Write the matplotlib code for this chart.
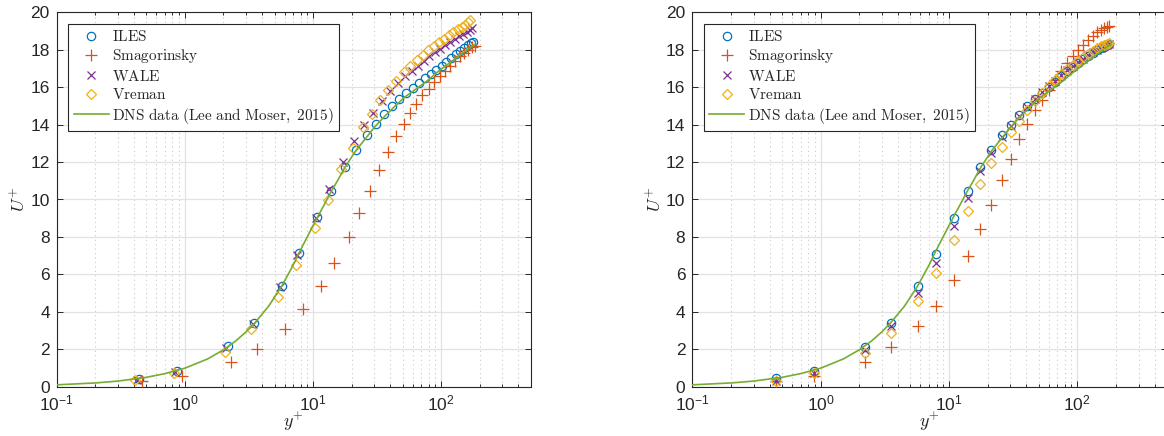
import matplotlib
matplotlib.use("Agg")
import matplotlib.pyplot as plt
from matplotlib.ticker import LogLocator, NullLocator, NullFormatter

plt.rcParams['font.family'] = ['Liberation Sans', 'DejaVu Sans']
plt.rcParams['mathtext.fontset'] = 'cm'

# ---------------- data ----------------
labels = ['ILES', 'Smagorinsky', 'WALE', 'Vreman', 'DNS data (Lee and Moser, 2015)']

# DNS reference profile
dns_yp = [0.1, 0.2, 0.3, 0.5, 0.7, 1.0, 1.5, 2.0, 2.5, 3.0, 3.5, 4.5, 5.7, 7.0, 7.7, 9.0,
          10.8, 12.5, 13.9, 15.5, 17.7, 21.6, 26.3, 30.0, 35.9, 43.0, 51.4, 62.0, 78.0,
          95.0, 119.0, 145.0, 170.0, 182.0]
dns_U = [0.10, 0.20, 0.30, 0.50, 0.70, 0.99, 1.48, 1.97, 2.45, 2.93, 3.40, 4.30, 5.38, 6.50,
         7.10, 8.00, 9.05, 9.85, 10.45, 11.00, 11.72, 12.62, 13.35, 13.85, 14.42, 14.95,
         15.45, 15.85, 16.35, 16.85, 17.35, 17.80, 18.15, 18.27]

# Left panel
L_iles_yp = [0.44, 0.87, 2.17, 3.46, 5.69, 7.78, 10.8, 13.9, 17.7, 21.6, 26.3, 30.7, 35.9,
             41.4, 47.0, 53.3, 60.1, 67.4, 74.6, 83.1, 91.5, 100.7, 109.4, 119.0, 129.5,
             140.7, 151.0, 161.6, 170.7, 175.5]
L_iles_U = [0.41, 0.86, 2.19, 3.42, 5.40, 7.13, 9.06, 10.48, 11.76, 12.66, 13.46, 14.03,
            14.57, 14.97, 15.37, 15.69, 15.97, 16.22, 16.47, 16.72, 16.94, 17.15, 17.36,
            17.56, 17.75, 17.93, 18.10, 18.24, 18.34, 18.40]

L_smag_yp = [0.465, 0.955, 2.30, 3.68, 6.01, 8.31, 11.6, 14.6, 18.9, 22.9, 27.7, 32.4, 38.1,
             44.0, 50.8, 56.9, 63.4, 71.1, 79.7, 88.2, 97.7, 107.5, 117.6, 127.9, 139.2,
             151.4, 162.6, 173.7, 184.5]
L_smag_U = [0.30, 0.59, 1.30, 2.02, 3.07, 4.14, 5.40, 6.63, 7.99, 9.27, 10.48, 11.59, 12.53,
            13.37, 14.05, 14.62, 15.12, 15.56, 15.92, 16.28, 16.58, 16.88, 17.15, 17.40,
            17.65, 17.85, 18.00, 18.13, 18.18]

L_wale_yp = [0.425, 0.83, 2.09, 3.39, 5.53, 7.55, 10.5, 13.3, 17.0, 20.7, 25.1, 29.5, 34.4,
             39.7, 45.6, 52.0, 58.7, 65.4, 72.9, 80.6, 89.3, 98.2, 106.9, 117.0, 127.2,
             137.5, 147.7, 158.0, 167.5, 174.0]
L_wale_U = [0.35, 0.80, 2.09, 3.35, 5.30, 7.04, 9.00, 10.55, 11.98, 13.10, 13.99, 14.62,
            15.24, 15.78, 16.22, 16.58, 16.88, 17.15, 17.42, 17.65, 17.86, 18.06, 18.24,
            18.42, 18.58, 18.72, 18.86, 18.97, 19.07, 19.16]

L_vrem_yp = [0.41, 0.82, 2.04, 3.30, 5.36, 7.37, 10.37, 12.96, 16.4, 20.3, 24.6, 28.8, 33.4,
             38.5, 44.5, 50.8, 57.3, 64.2, 71.6, 79.1, 87.1, 95.9, 105.0, 114.2, 124.2,
             134.4, 144.3, 154.0, 162.6, 168.6]
L_vrem_U = [0.36, 0.75, 1.87, 3.07, 4.81, 6.51, 8.47, 9.98, 11.62, 12.75, 13.87, 14.57,
            15.30, 15.87, 16.35, 16.79, 17.15, 17.43, 17.72, 17.97, 18.18, 18.40, 18.59,
            18.77, 18.93, 19.09, 19.22, 19.34, 19.47, 19.57]

# Right panel (common y+ grid)
R_yp = [0.45, 0.89, 2.21, 3.53, 5.70, 7.88, 10.9, 14.0, 17.5, 21.2, 26.0, 30.4, 35.4, 40.8,
        46.7, 52.8, 59.7, 67.0, 74.8, 83.3, 92.0, 101.5, 111.0, 121.0, 131.5, 142.0, 152.5,
        162.5, 171.0, 177.0]
R_iles_U = [0.45, 0.86, 2.14, 3.42, 5.40, 7.10, 9.02, 10.43, 11.71, 12.66, 13.42, 14.00,
            14.53, 14.97, 15.35, 15.70, 16.00, 16.30, 16.60, 16.85, 17.08, 17.30, 17.50,
            17.68, 17.85, 17.98, 18.08, 18.17, 18.24, 18.28]
R_smag_U = [0.30, 0.59, 1.34, 2.14, 3.25, 4.32, 5.71, 6.99, 8.42, 9.71, 11.05, 12.16, 13.23,
            14.05, 14.80, 15.33, 15.87, 16.36, 16.84, 17.29, 17.65, 17.97, 18.24, 18.50,
            18.72, 18.93, 19.07, 19.18, 19.22, 19.25]
R_wale_U = [0.30, 0.71, 1.96, 3.25, 5.00, 6.63, 8.56, 10.07, 11.50, 12.51, 13.34, 13.94,
            14.45, 14.92, 15.35, 15.72, 16.05, 16.35, 16.65, 16.90, 17.12, 17.33, 17.52,
            17.70, 17.86, 17.99, 18.10, 18.19, 18.26, 18.30]
R_vrem_U = [0.30, 0.75, 1.79, 2.86, 4.58, 6.10, 7.85, 9.36, 10.84, 11.95, 12.83, 13.58,
            14.22, 14.80, 15.28, 15.70, 16.05, 16.38, 16.68, 16.95, 17.18, 17.40, 17.60,
            17.78, 17.94, 18.07, 18.18, 18.27, 18.33, 18.37]

xlim = (0.1, 500)
ylim = (0, 20)
yticks = [0, 2, 4, 6, 8, 10, 12, 14, 16, 18, 20]

# ---------------- styling ----------------
C_ILES = '#0072BD'
C_SMAG = '#D95319'
C_WALE = '#7E2F8E'
C_VREM = '#EDB120'
C_DNS = '#77AC30'
AXC = '#262626'

W, H = 1164, 436
fig = plt.figure(figsize=(W / 100, H / 100), dpi=100)
bottom = 1 - 386.7 / H
height = (386.7 - 12.3) / H
axL = fig.add_axes([56.7 / W, bottom, (530.9 - 56.7) / W, height])
axR = fig.add_axes([692.3 / W, bottom, (1167.0 - 692.3) / W, height])


def style(ax):
    ax.set_xscale('log')
    ax.set_xlim(*xlim)
    ax.set_ylim(*ylim)
    ax.set_yticks(yticks)
    ax.xaxis.set_major_locator(LogLocator(base=10, numticks=10))
    ax.xaxis.set_minor_locator(LogLocator(base=10, subs=[2, 3, 4, 5, 6, 7, 8, 9], numticks=20))
    ax.xaxis.set_minor_formatter(NullFormatter())
    ax.yaxis.set_minor_locator(NullLocator())
    ax.set_axisbelow(True)
    ax.grid(True, which='major', color='#e2e2e2', lw=0.9, ls='-')
    ax.xaxis.grid(True, which='minor', color='#c8c8c8', lw=0.8, ls=(0, (1, 3)))
    ax.tick_params(which='both', direction='in', top=True, right=True, colors=AXC,
                   labelsize=12.5, width=0.7)
    ax.tick_params(which='major', length=4.5, pad=5)
    ax.tick_params(which='minor', length=2.5)
    for s in ax.spines.values():
        s.set_color(AXC)
        s.set_linewidth(0.8)
    ax.set_xlabel(r'$y^{+}$', fontsize=13, color=AXC, labelpad=-2)
    ax.set_ylabel(r'$U^{+}$', fontsize=13, color=AXC, labelpad=1)


def draw(ax, data):
    (yi, ui), (ys, us), (yw, uw), (yv, uv) = data
    ax.plot(yi, ui, ls='none', marker='o', ms=6.0, mfc='none', mec=C_ILES, mew=0.9, label=labels[0], zorder=3)
    ax.plot(ys, us, ls='none', marker='+', ms=8, mec=C_SMAG, mew=0.9, label=labels[1], zorder=3)
    ax.plot(yw, uw, ls='none', marker='x', ms=6, mec=C_WALE, mew=0.9, label=labels[2], zorder=3)
    ax.plot(yv, uv, ls='none', marker='D', ms=5, mfc='none', mec=C_VREM, mew=0.9, label=labels[3], zorder=3)
    ax.plot(dns_yp, dns_U, color=C_DNS, lw=1.2, label=labels[4], zorder=4)
    leg = ax.legend(loc='upper left', fontsize=11, frameon=True, fancybox=False,
                    framealpha=1, edgecolor=AXC, handlelength=2.3, handletextpad=0.25,
                    labelspacing=0.22, borderpad=0.35, borderaxespad=0.75, numpoints=1)
    leg.get_frame().set_linewidth(0.8)
    for t in leg.get_texts():
        t.set_text(r'$\mathrm{' + t.get_text().replace(' ', r'\ ') + '}$')
        t.set_color(AXC)


style(axL)
style(axR)
draw(axL, [(L_iles_yp, L_iles_U), (L_smag_yp, L_smag_U), (L_wale_yp, L_wale_U), (L_vrem_yp, L_vrem_U)])
draw(axR, [(R_yp, R_iles_U), (R_yp, R_smag_U), (R_yp, R_wale_U), (R_yp, R_vrem_U)])

fig.savefig('out.png', dpi=100)
